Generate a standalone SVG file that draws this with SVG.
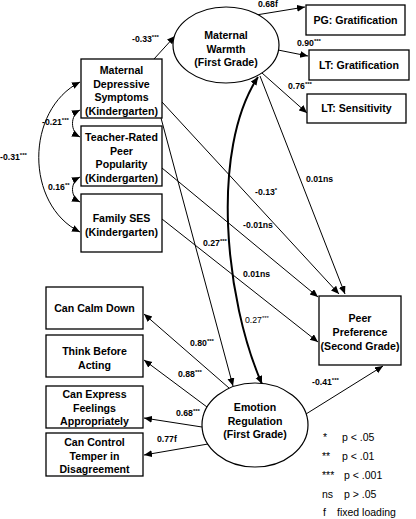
<svg xmlns="http://www.w3.org/2000/svg" width="416" height="519" viewBox="0 0 416 519">
<style>
.box{fill:#fff;stroke:#000;stroke-width:1.3}
.ell{fill:#fff;stroke:#000;stroke-width:1.2}
.nt{font-family:"Liberation Sans",Arial,sans-serif;font-weight:bold;font-size:10.6px;text-anchor:middle;fill:#000}
.lb{font-family:"Liberation Sans",Arial,sans-serif;font-weight:bold;font-size:8.7px;fill:#000}
.lbn{font-family:"Liberation Sans",Arial,sans-serif;font-size:8.7px;fill:#000}
.lg{font-family:"Liberation Sans",Arial,sans-serif;font-size:10.5px;fill:#000}
.s{font-size:6px}
.ar{fill:none;stroke:#000;stroke-width:1;marker-end:url(#ah)}
.cv{fill:none;stroke:#000;stroke-width:1;marker-start:url(#ah2);marker-end:url(#ah2)}
.bold{fill:none;stroke:#000;stroke-width:2;marker-start:url(#ah2);marker-end:url(#ah2)}
</style>
<defs>
<marker id="ah" markerUnits="userSpaceOnUse" markerWidth="9" markerHeight="8" refX="8" refY="3.5" orient="auto"><path d="M0,0 L8,3.5 L0,7 z" fill="#000"/></marker>
<marker id="ah2" markerUnits="userSpaceOnUse" markerWidth="9" markerHeight="8" refX="8" refY="3.5" orient="auto-start-reverse"><path d="M0,0 L8,3.5 L0,7 z" fill="#000"/></marker>
</defs>

<g id="connectors">
<path class="ar" d="M154,59 L175,36"/>
<path class="ar" d="M256,15 L305,7"/>
<path class="ar" d="M278,50 L308,56"/>
<path class="ar" d="M262,73 L307,113"/>
<path class="ar" d="M161,118 L233,386"/>
<path class="ar" d="M162,102 L339,294"/>
<path class="ar" d="M260,76 L345,294"/>
<path class="ar" d="M162,168 L318,297"/>
<path class="ar" d="M162,219 L318,342"/>
<path class="ar" d="M306,414 L383,366"/>
<path class="ar" d="M229,388 L144,314"/>
<path class="ar" d="M207,407 L144,360"/>
<path class="ar" d="M202,427 L144,418"/>
<path class="ar" d="M208,444 L144,455"/>
<path class="bold" d="M262,384 C225,300 210,150 258,77"/>
<path class="cv" d="M80,82 C25,110 25,205 80,232"/>
<path class="cv" d="M80,110 C70,115 70,132 80,137"/>
<path class="cv" d="M80,177 C70,182 70,197 80,202"/>
</g>

<g id="labels">
<text class="lb" x="132" y="42">-0.33<tspan class="s" dy="-3">***</tspan></text>
<text class="lb" x="258" y="7">0.68f</text>
<text class="lb" x="297" y="46">0.90<tspan class="s" dy="-3">***</tspan></text>
<text class="lb" x="288" y="89">0.76<tspan class="s" dy="-3">***</tspan></text>
<text class="lb" x="42" y="125">-0.21<tspan class="s" dy="-3">***</tspan></text>
<text class="lb" x="0" y="160">-0.31<tspan class="s" dy="-3">***</tspan></text>
<text class="lb" x="48" y="190">0.16<tspan class="s" dy="-3">**</tspan></text>
<text class="lb" x="306" y="182">0.01ns</text>
<text class="lb" x="255" y="195">-0.13<tspan class="s" dy="-3">*</tspan></text>
<text class="lb" x="243" y="228">-0.01ns</text>
<text class="lb" x="203" y="246">0.27<tspan class="s" dy="-3">***</tspan></text>
<text class="lb" x="243" y="277">0.01ns</text>
<text class="lbn" x="245" y="323">0.27<tspan class="s" dy="-3">***</tspan></text>
<text class="lb" x="190" y="346">0.80<tspan class="s" dy="-3">***</tspan></text>
<text class="lb" x="178" y="377">0.88<tspan class="s" dy="-3">***</tspan></text>
<text class="lb" x="176" y="416">0.68<tspan class="s" dy="-3">***</tspan></text>
<text class="lb" x="157" y="442">0.77f</text>
<text class="lb" x="312" y="385">-0.41<tspan class="s" dy="-3">***</tspan></text>
</g>

<g id="mw">
<ellipse class="ell" cx="226" cy="45" rx="53" ry="38"/>
<text class="nt" x="226" y="39">Maternal</text>
<text class="nt" x="226" y="52.5">Warmth</text>
<text class="nt" x="226" y="66">(First Grade)</text>
</g>
<g id="pg">
<rect class="box" x="306" y="5" width="99" height="30"/>
<text class="nt" x="355.5" y="24">PG: Gratification</text>
</g>
<g id="ltg">
<rect class="box" x="309" y="50" width="100" height="30"/>
<text class="nt" x="359" y="69">LT: Gratification</text>
</g>
<g id="lts">
<rect class="box" x="307" y="94" width="99" height="29"/>
<text class="nt" x="356.5" y="112">LT: Sensitivity</text>
</g>
<g id="mds">
<rect class="box" x="81" y="59" width="81" height="59"/>
<text class="nt" x="121.5" y="74">Maternal</text>
<text class="nt" x="121.5" y="87.5">Depressive</text>
<text class="nt" x="121.5" y="101">Symptoms</text>
<text class="nt" x="121.5" y="114.5">(Kindergarten)</text>
</g>
<g id="trpp">
<rect class="box" x="81" y="126" width="81" height="60"/>
<text class="nt" x="121.5" y="141">Teacher-Rated</text>
<text class="nt" x="121.5" y="154.5">Peer</text>
<text class="nt" x="121.5" y="168">Popularity</text>
<text class="nt" x="121.5" y="181.5">(Kindergarten)</text>
</g>
<g id="ses">
<rect class="box" x="81" y="194" width="81" height="58"/>
<text class="nt" x="121.5" y="222">Family SES</text>
<text class="nt" x="121.5" y="236">(Kindergarten)</text>
</g>
<g id="pp">
<rect class="box" x="319" y="296" width="82" height="69"/>
<text class="nt" x="360" y="322">Peer</text>
<text class="nt" x="360" y="336">Preference</text>
<text class="nt" x="360" y="349.5">(Second Grade)</text>
</g>
<g id="er">
<ellipse class="ell" cx="255" cy="425" rx="53" ry="42"/>
<text class="nt" x="255" y="411">Emotion</text>
<text class="nt" x="255" y="424.5">Regulation</text>
<text class="nt" x="255" y="438">(First Grade)</text>
</g>
<g id="ccd">
<rect class="box" x="46" y="287" width="97" height="42"/>
<text class="nt" x="94.5" y="312">Can Calm Down</text>
</g>
<g id="tba">
<rect class="box" x="46" y="335" width="97" height="42"/>
<text class="nt" x="94.5" y="355">Think Before</text>
<text class="nt" x="94.5" y="368.5">Acting</text>
</g>
<g id="cef">
<rect class="box" x="46" y="386" width="97" height="42"/>
<text class="nt" x="94.5" y="398">Can Express</text>
<text class="nt" x="94.5" y="411.5">Feelings</text>
<text class="nt" x="94.5" y="425">Appropriately</text>
</g>
<g id="cct">
<rect class="box" x="46" y="433" width="97" height="43"/>
<text class="nt" x="94.5" y="446">Can Control</text>
<text class="nt" x="94.5" y="459.5">Temper in</text>
<text class="nt" x="94.5" y="473">Disagreement</text>
</g>

<g id="legend">
<text class="lg" x="323" y="441">*</text><text class="lg" x="342" y="441">p &lt; .05</text>
<text class="lg" x="322" y="460">**</text><text class="lg" x="342" y="460">p &lt; .01</text>
<text class="lg" x="322" y="479">***</text><text class="lg" x="344" y="479">p &lt; .001</text>
<text class="lg" x="322" y="498">ns</text><text class="lg" x="344" y="498">p &gt; .05</text>
<text class="lg" x="323" y="516">f</text><text class="lg" x="337" y="516">fixed loading</text>
</g>
</svg>
